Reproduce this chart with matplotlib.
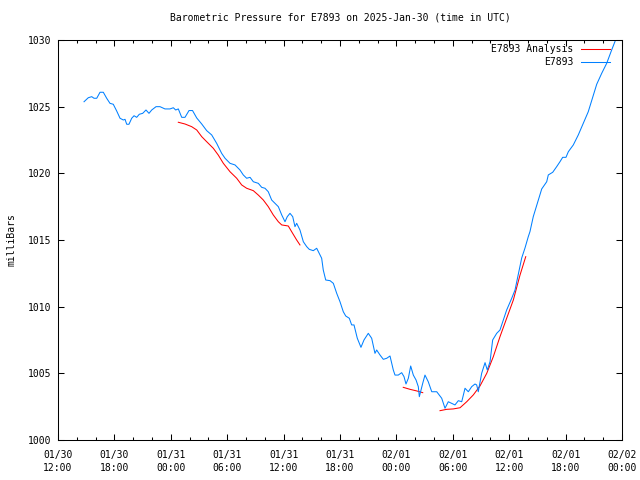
import matplotlib
matplotlib.use("Agg")
import matplotlib.pyplot as plt
from matplotlib.ticker import MultipleLocator

# hours after 01/30 12:00 UTC, pressure in millibars
obs_hours = [2.77, 3.22, 3.59, 3.83, 4.12, 4.47, 4.82, 5.18, 5.53, 5.88,
             6.24, 6.60, 6.95, 7.13, 7.31, 7.55, 7.84, 8.09, 8.37, 8.65,
             9.01, 9.36, 9.68, 9.97, 10.43, 10.85, 11.38, 11.91, 12.27, 12.52,
             12.80, 13.16, 13.51, 13.94, 14.31, 14.76, 15.29, 15.82, 16.35, 16.88,
             17.41, 17.77, 18.30, 18.83, 19.36, 19.71, 20.07, 20.43, 20.78, 21.31,
             21.67, 22.02, 22.37, 22.73, 23.09, 23.44, 23.80, 24.15, 24.39, 24.68,
             24.97, 25.21, 25.39, 25.74, 26.10, 26.46, 26.73, 27.16, 27.52, 27.87,
             28.05, 28.22, 28.48, 28.94, 29.29, 29.65, 30.00, 30.35, 30.61, 30.99,
             31.24, 31.49, 31.84, 32.23, 32.55, 33.01, 33.37, 33.72, 33.90, 34.26,
             34.61, 34.97, 35.32, 35.67, 35.85, 36.20, 36.56, 36.81, 37.02, 37.27,
             37.52, 37.80, 38.09, 38.33, 38.44, 38.80, 39.04, 39.39, 39.76, 40.29,
             40.82, 41.17, 41.52, 41.88, 42.23, 42.59, 42.95, 43.30, 43.65, 44.01,
             44.36, 44.54, 44.71, 45.07, 45.43, 45.67, 45.96, 46.24, 46.67, 47.02,
             47.37, 47.73, 48.27, 48.62, 48.97, 49.33, 49.68, 50.03, 50.21, 50.56,
             51.10, 51.46, 51.99, 52.16, 52.63, 53.05, 53.40, 53.69, 54.04, 54.29,
             54.82, 55.35, 55.88, 56.41, 56.95, 57.31, 57.84, 58.37, 58.90, 59.36]
obs_mbar = [1025.37, 1025.67, 1025.75, 1025.63, 1025.63, 1026.08, 1026.08, 1025.63, 1025.25, 1025.18,
            1024.68, 1024.13, 1024.00, 1024.05, 1023.68, 1023.68, 1024.13, 1024.32, 1024.20, 1024.43,
            1024.50, 1024.75, 1024.50, 1024.75, 1025.00, 1025.00, 1024.83, 1024.83, 1024.92, 1024.75,
            1024.83, 1024.20, 1024.20, 1024.71, 1024.71, 1024.15, 1023.70, 1023.20, 1022.88, 1022.25,
            1021.50, 1021.13, 1020.75, 1020.63, 1020.25, 1019.88, 1019.63, 1019.70, 1019.37, 1019.25,
            1018.95, 1018.88, 1018.62, 1018.00, 1017.75, 1017.50, 1016.88, 1016.37, 1016.75, 1017.00,
            1016.75, 1016.00, 1016.25, 1015.75, 1014.87, 1014.50, 1014.30, 1014.20, 1014.38, 1013.88,
            1013.63, 1012.75, 1012.00, 1011.95, 1011.75, 1011.00, 1010.37, 1009.62, 1009.30, 1009.13,
            1008.63, 1008.63, 1007.63, 1006.95, 1007.50, 1008.00, 1007.63, 1006.50, 1006.75, 1006.37,
            1006.05, 1006.13, 1006.30, 1005.25, 1004.87, 1004.87, 1005.05, 1004.75, 1004.20, 1004.63,
            1005.55, 1004.87, 1004.50, 1004.00, 1003.25, 1004.25, 1004.87, 1004.37, 1003.62, 1003.62,
            1003.13, 1002.38, 1002.87, 1002.75, 1002.63, 1002.95, 1002.87, 1003.88, 1003.62, 1004.00,
            1004.20, 1004.13, 1003.62, 1005.00, 1005.80, 1005.25, 1005.87, 1007.50, 1008.00, 1008.25,
            1009.00, 1009.75, 1010.63, 1011.25, 1012.45, 1013.65, 1014.40, 1015.25, 1015.63, 1016.75,
            1018.00, 1018.83, 1019.37, 1019.88, 1020.08, 1020.50, 1020.87, 1021.20, 1021.20, 1021.62,
            1022.13, 1022.88, 1023.75, 1024.62, 1025.87, 1026.68, 1027.50, 1028.25, 1029.25, 1030.08]

# analysis comes in three separate pieces
ana_hours_1 = [12.80, 13.51, 14.22, 14.76, 15.29, 15.82, 16.52, 17.05, 17.59, 18.30,
               19.01, 19.54, 20.07, 20.78, 21.31, 21.84, 22.37, 22.90, 23.44, 23.80,
               24.50, 24.86, 25.39, 25.74]
ana_mbar_1 = [1023.83, 1023.70, 1023.50, 1023.25, 1022.75, 1022.37, 1021.88, 1021.37, 1020.75, 1020.12,
              1019.63, 1019.13, 1018.88, 1018.70, 1018.37, 1018.00, 1017.50, 1016.88, 1016.37, 1016.13,
              1016.05, 1015.62, 1015.00, 1014.63]
ana_hours_2 = [36.73, 37.45, 38.16, 38.80]
ana_mbar_2 = [1003.95, 1003.80, 1003.68, 1003.55]
ana_hours_3 = [40.64, 41.35, 42.05, 42.77, 43.48, 44.18, 44.89, 45.61, 46.31, 47.02,
               47.73, 48.44, 49.15, 49.76]
ana_mbar_3 = [1002.20, 1002.30, 1002.33, 1002.42, 1002.87, 1003.38, 1004.05, 1005.00, 1006.25, 1007.75,
              1009.13, 1010.50, 1012.37, 1013.75]

tick_hours = [0, 6, 12, 18, 24, 30, 36, 42, 48, 54, 60]
tick_labels = ["01/30\n12:00", "01/30\n18:00", "01/31\n00:00", "01/31\n06:00",
               "01/31\n12:00", "01/31\n18:00", "02/01\n00:00", "02/01\n06:00",
               "02/01\n12:00", "02/01\n18:00", "02/02\n00:00"]

FONT = "DejaVu Sans Mono"
plt.rcParams["font.family"] = FONT
plt.rcParams["font.size"] = 7

fig = plt.figure(figsize=(6.4, 4.8), dpi=100)
ax = fig.add_axes([58 / 640, 40 / 480, 564 / 640, 400 / 480])

# ── Lines ────────────────────────────────────────────────────
ax.plot(ana_hours_1, ana_mbar_1, color="#ff0000", lw=0.75, label="E7893 Analysis")
ax.plot(ana_hours_2, ana_mbar_2, color="#ff0000", lw=0.75)
ax.plot(ana_hours_3, ana_mbar_3, color="#ff0000", lw=0.75)
ax.plot(obs_hours, obs_mbar, color="#0080ff", lw=0.75, label="E7893")

# ── Axes ─────────────────────────────────────────────────────
ax.set_xlim(0, 60)
ax.set_ylim(1000, 1030)
ax.set_xticks(tick_hours)
ax.set_xticklabels(tick_labels, linespacing=1.35)
ax.xaxis.set_minor_locator(MultipleLocator(2))
ax.set_yticks(range(1000, 1031, 5))
ax.tick_params(which="both", direction="in", top=True, right=True, width=0.75,
               colors="black", labelsize=7)
ax.tick_params(axis="x", which="major", length=4.5, pad=7)
ax.tick_params(axis="y", which="major", length=4.5, pad=5)
ax.tick_params(which="minor", length=2.5)
for sp in ax.spines.values():
    sp.set_linewidth(0.75)

ax.set_ylabel("milliBars", fontsize=7, labelpad=8)
ax.set_title("Barometric Pressure for E7893 on 2025-Jan-30 (time in UTC)",
             fontsize=7, pad=14)

ax.legend(loc="upper right", bbox_to_anchor=((612 - 58) / 564, 0.995),
          frameon=False, markerfirst=False, fontsize=7,
          handlelength=3.0, handletextpad=0.8, borderaxespad=0.0,
          labelspacing=0.35, borderpad=0.2)

fig.savefig("out.png", dpi=100)
